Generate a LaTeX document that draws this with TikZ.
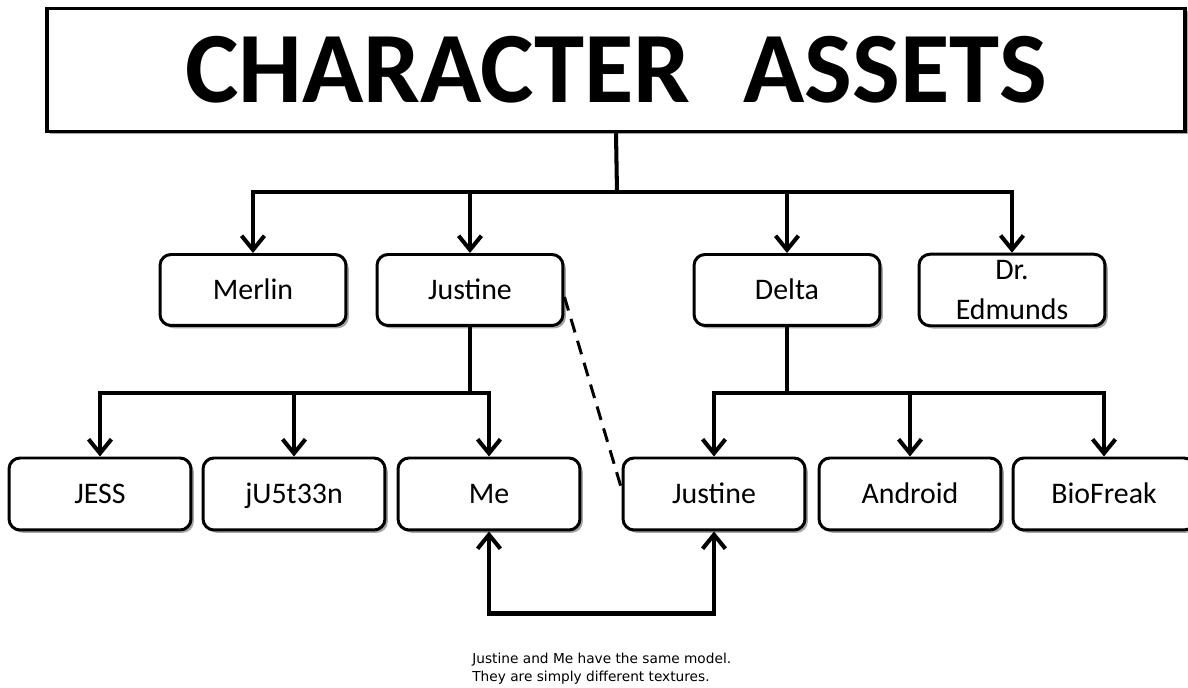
\documentclass[tikz,border=0pt]{standalone}
\usepackage{fontspec}
\setmainfont{Carlito}
\newfontfamily\notefont{DejaVu Sans}
\usetikzlibrary{arrows.meta,positioning,shadows}

\begin{document}
\begin{tikzpicture}[
    x=0.02cm, y=-0.02cm,
    box/.style={draw, line width=1.7pt, fill=white, rounded corners=0.22cm,
        font=\fontsize{17}{23}\selectfont, align=center,
        drop shadow={shadow xshift=1.6pt, shadow yshift=-1.6pt, fill=black!35, opacity=1}},
    oneline/.style={text height=12.7pt, text depth=2.3pt},
    topbox/.style={box, minimum width=3.72cm, minimum height=1.42cm},
    lowbox/.style={box, oneline, minimum width=3.64cm, minimum height=1.44cm},
    conn/.style={line width=2.3pt, line cap=butt},
    arrow/.style={conn, -{Straight Barb[length=8pt, width=13pt, line width=2.3pt]}}
]
    \useasboundingbox (0,0) rectangle (1188,688);

    % Title
    \node[draw, line width=2pt, minimum width=22.76cm, minimum height=2.46cm,
        fill=white, font=\fontsize{57.5}{62}\bfseries\selectfont,
        drop shadow={shadow xshift=1.6pt, shadow yshift=-1.6pt, fill=black!35, opacity=1}]
        (title) at (616,70) {CHARACTER\hspace{0.3em} ASSETS};

    % First level
    \node[topbox, oneline] (merlin) at (253,290) {Merlin};
    \node[topbox, oneline] (justine) at (470,290) {Justine};
    \node[topbox, oneline] (delta) at (787,290) {Delta};
    \node[topbox] (edmunds) at (1012,290) {Dr.\\Edmunds};

    % Second level
    \node[lowbox] (jess) at (100,494) {JESS};
    \node[lowbox] (justeen) at (294,494) {jU5t33n};
    \node[lowbox] (me) at (489,494) {Me};
    \node[lowbox] (justineb) at (714,494) {Justine};
    \node[lowbox] (android) at (910,494) {Android};
    \node[lowbox] (biofreak) at (1104,494) {BioFreak};

    % Title to characters
    \coordinate (hub) at (617,192);
    \draw[conn] (title.south) -- (hub);
    \foreach \n in {merlin,justine,delta,edmunds}
        \draw[arrow] (hub) -| (\n.north);

    % Justine to her versions
    \coordinate (jhub) at (470,393);
    \draw[conn] (justine.south) -- (jhub);
    \foreach \n in {jess,justeen,me}
        \draw[arrow] (jhub) -| (\n.north);

    % Delta to its versions
    \coordinate (dhub) at (787,393);
    \draw[conn] (delta.south) -- (dhub);
    \foreach \n in {justineb,android,biofreak}
        \draw[arrow] (dhub) -| (\n.north);

    % Same character, dashed
    \draw[line width=1.7pt, dash pattern=on 8pt off 5pt] ([yshift=-4pt]justine.east) -- ([yshift=3pt]justineb.west);

    % Same model
    \draw[conn, {Straight Barb[length=8pt, width=13pt, line width=2.3pt]}-{Straight Barb[length=8pt, width=13pt, line width=2.3pt]}]
        (me.south) -- ++(0,82) -| (justineb.south);

    \node[anchor=north west, align=left, inner sep=0pt,
        font=\notefont\fontsize{7.8}{10.2}\selectfont] (note) at (472,653)
        {Justine and Me have the same model.\\They are simply different textures.};
\end{tikzpicture}
\end{document}
